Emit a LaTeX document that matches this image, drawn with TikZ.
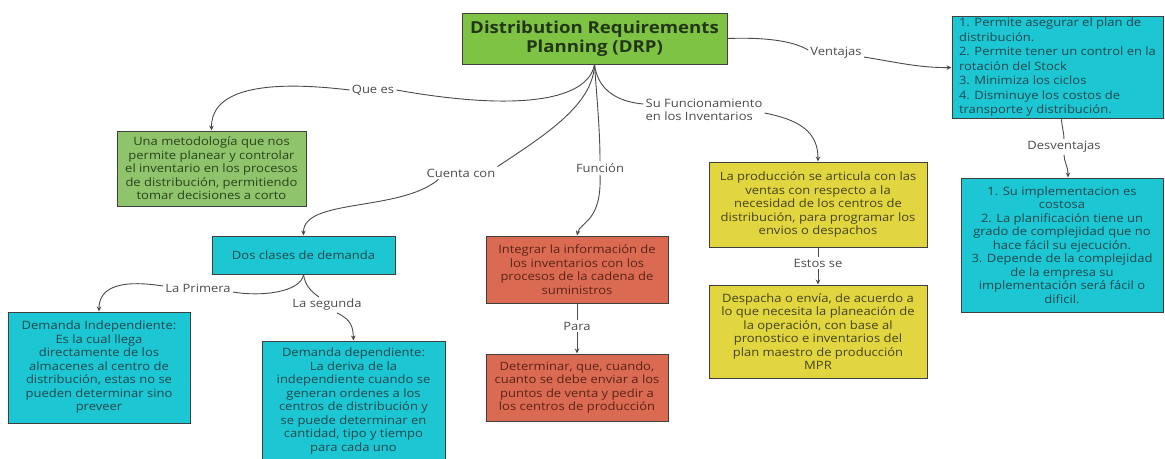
\documentclass[tikz,border=0pt]{standalone}
\usepackage{fontspec}
\setmainfont{Open Sans}[FakeStretch=1.13]
\usetikzlibrary{arrows.meta}

\definecolor{titlegreen}{HTML}{7FC344}
\definecolor{softgreen}{HTML}{8FC46C}
\definecolor{aqua}{HTML}{1CC6D2}
\definecolor{brick}{HTML}{DB6A52}
\definecolor{mustard}{HTML}{E1D540}
\definecolor{edge}{HTML}{3F3F3F}
\definecolor{wire}{HTML}{4A4A4A}
\definecolor{lbltext}{HTML}{4C4C4C}
\definecolor{aquatext}{HTML}{21494E}
\definecolor{bricktext}{HTML}{5A2417}
\definecolor{mustardtext}{HTML}{46441A}
\definecolor{greentext}{HTML}{2A431C}

\newcommand\txtsz{\fontsize{11.5pt}{13.5pt}\selectfont}

\tikzset{
  box/.style={draw=edge, line width=1pt, inner sep=2pt, align=center, font=\txtsz},
  aquabox/.style={box, fill=aqua, text=aquatext},
  brickbox/.style={box, fill=brick, text=bricktext},
  mustardbox/.style={box, fill=mustard, text=mustardtext},
  greenbox/.style={box, fill=softgreen, text=greentext},
  lbl/.style={inner sep=2pt, text=lbltext, font=\txtsz, align=center},
  conn/.style={draw=wire, line width=0.9pt},
  arr/.style={conn, -{Stealth[length=5pt,width=4.5pt]}},
}

\begin{document}
\begin{tikzpicture}[x=1pt,y=-1pt]
\useasboundingbox (0,0) rectangle (1165,458);
\clip (0,0) rectangle (1165,458);
\fill[white] (0,0) rectangle (1165,458);

% central topic
\node[box, fill=titlegreen, text=greentext!80!black, minimum width=265pt, minimum height=51pt,
      font=\bfseries\fontsize{16.5pt}{19pt}\selectfont] (title) at (594.5,38.5)
  {Distribution Requirements\\Planning (DRP)};

% boxes
\node[greenbox, minimum width=189pt, minimum height=75pt] (una) at (211.5,168.5)
  {Una metodología que nos\\permite planear y controlar\\el inventario en los procesos\\de distribución, permitiendo\\tomar decisiones a corto};

\node[aquabox, align=left, minimum width=211pt, minimum height=101pt,
      font=\fontsize{11.5pt}{14.5pt}\selectfont] (ventb) at (1057.5,67.5)
  {1. Permite asegurar el plan de\\distribución.\\2. Permite tener un control en la\\rotación del Stock\\3. Minimiza los ciclos\\4. Disminuye los costos de\\transporte y distribución.};

\node[aquabox, minimum width=202pt, minimum height=134pt] (desv) at (1062,245)
  {1. Su implementacion es\\costosa\\2. La planificación tiene un\\grado de complejidad que no\\hace fácil su ejecución.\\3. Depende de la complejidad\\de la empresa su\\implementación será fácil o\\dificil.};

\node[aquabox, minimum width=183pt, minimum height=38pt] (dos) at (303.5,255)
  {Dos clases de demanda};

\node[aquabox, minimum width=182pt, minimum height=111pt] (demind) at (99,367.5)
  {Demanda Independiente:\\Es la cual llega\\directamente de los\\almacenes al centro de\\distribución, estas no se\\pueden determinar sino\\preveer};

\node[aquabox, minimum width=183pt, minimum height=120pt] (demdep) at (353.5,401)
  {Demanda dependiente:\\La deriva de la\\independiente cuando se\\generan ordenes a los\\centros de distribución y\\se puede determinar en\\cantidad, tipo y tiempo\\para cada uno};

\node[brickbox, minimum width=182pt, minimum height=67pt] (integ) at (577,269.5)
  {Integrar la información de\\los inventarios con los\\procesos de la cadena de\\suministros};

\node[brickbox, minimum width=182pt, minimum height=67pt] (determ) at (577,387.5)
  {Determinar, que, cuando,\\cuanto se debe enviar a los\\puntos de venta y pedir a\\los centros de producción};

\node[mustardbox, minimum width=218pt, minimum height=85pt] (prod) at (818,204.5)
  {La producción se articula con las\\ventas con respecto a la\\necesidad de los centros de\\distribución, para programar los\\envios o despachos};

\node[mustardbox, minimum width=218pt, minimum height=93pt] (desp) at (818,331.5)
  {Despacha o envía, de acuerdo a\\lo que necesita la planeación de\\la operación, con base al\\pronostico e inventarios del\\plan maestro de producción\\MPR};

% connector labels
\node[lbl] (qlbl) at (373,90) {Que es};
\node[lbl] (vlbl) at (836,53) {Ventajas};
\node[lbl, align=left] (slbl) at (704,110) {Su Funcionamiento\\en los Inventarios};
\node[lbl] (clbl) at (461,173) {Cuenta con};
\node[lbl] (flbl) at (600,168) {Función};
\node[lbl] (dlbl) at (1064,147) {Desventajas};
\node[lbl] (p1lbl) at (198,288) {La Primera};
\node[lbl] (p2lbl) at (327,305) {La segunda};
\node[lbl] (palbl) at (577,326) {Para};
\node[lbl] (elbl) at (818,263) {Estos se};

% Que es
\draw[conn] (title.south) .. controls (588,100) and (520,112) .. (qlbl.east);
\draw[arr] (qlbl.west) .. controls (250,78) and (211,95) .. (una.north);

% Cuenta con
\draw[conn] (title.south) .. controls (593,105) and (545,135) .. (clbl.north east);
\draw[arr] ([xshift=14pt]clbl.south west) .. controls (400,212) and (303,198) .. (dos.north);

% Función
\draw[conn] (title.south) .. controls (597,100) and (600,130) .. (flbl.north);
\draw[arr] (flbl.south) .. controls (602,222) and (580,222) .. (integ.north);

% Su Funcionamiento en los Inventarios
\draw[conn] (title.south) .. controls (598,92) and (620,102) .. ([yshift=6pt]slbl.west);
\draw[arr] ([yshift=-3pt]slbl.east) .. controls (800,120) and (818,132) .. (prod.north);

% Ventajas
\draw[conn] (title.east) .. controls (770,37) and (795,42) .. ([yshift=3pt]vlbl.west);
\draw[arr] ([yshift=-4pt]vlbl.east) .. controls (895,62) and (920,68) .. (ventb.west);

% Desventajas
\draw[conn] ([xshift=4pt]ventb.south) .. controls (1062,128) and (1064,132) .. (dlbl.north);
\draw[arr] (dlbl.south) .. controls (1064,162) and (1068,166) .. ([xshift=6pt]desv.north);

% two kinds of demand
\draw[conn] (dos.south) .. controls (301,292) and (262,297) .. ([yshift=-4pt]p1lbl.east);
\draw[arr] ([yshift=2pt]p1lbl.west) .. controls (112,278) and (99,292) .. (demind.north);
\draw[conn] (dos.south) .. controls (305,286) and (312,292) .. ([xshift=-8pt]p2lbl.north);
\draw[arr] ([xshift=10pt]p2lbl.south) .. controls (352,320) and (353,328) .. (demdep.north);

% Para
\draw[conn] (integ.south) -- (palbl.north);
\draw[arr] (palbl.south) -- (determ.north);

% Estos se
\draw[conn] (prod.south) -- (elbl.north);
\draw[arr] (elbl.south) -- (desp.north);
\end{tikzpicture}
\end{document}
